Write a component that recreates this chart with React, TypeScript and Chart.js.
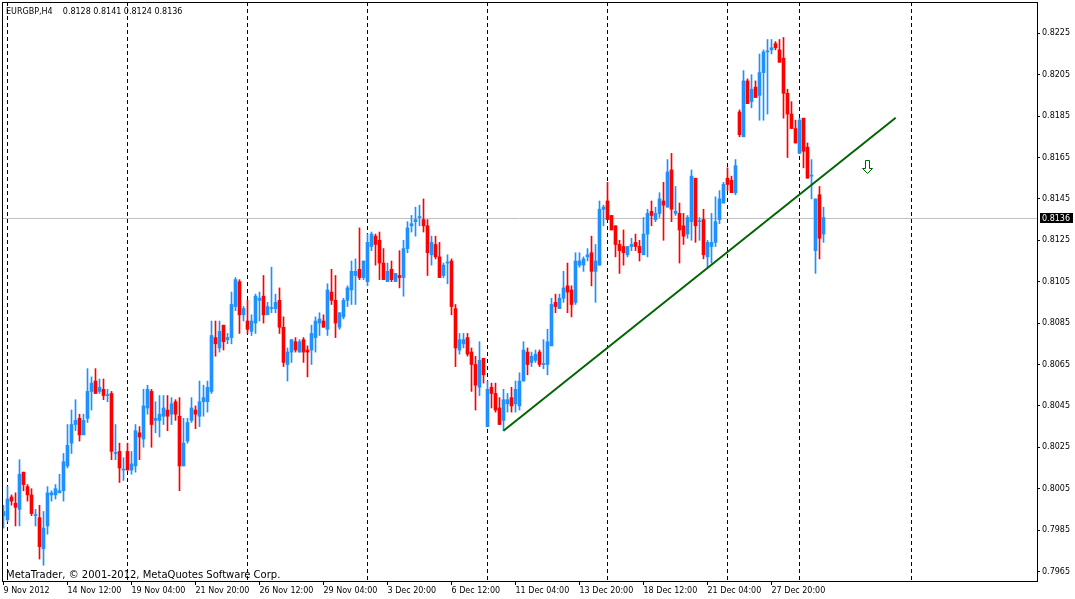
import React, { useEffect, useRef } from 'react';
import { Chart, registerables } from 'chart.js';

Chart.register(...registerables);

// ---------- data ----------
const symbolTitle = 'EURGBP,H4';
const copyrightText = 'MetaTrader, © 2001-2012, MetaQuotes Software Corp.';

const opens = [
  0.7992, 0.7990, 0.8001, 0.7998, 0.7995, 0.8013, 0.8006, 0.8002, 0.7992, 0.7991,
  0.7976, 0.7987, 0.8002, 0.8002, 0.8003, 0.8004, 0.8016, 0.8027, 0.8036, 0.8039,
  0.8031, 0.8039, 0.8052, 0.8057, 0.8052, 0.8053, 0.8050, 0.8051, 0.8022, 0.8023,
  0.8014, 0.8023, 0.8014, 0.8016, 0.8032, 0.8029, 0.8044, 0.8052, 0.8038, 0.8038,
  0.8040, 0.8043, 0.8041, 0.8047, 0.8040, 0.8016, 0.8028, 0.8038, 0.8043, 0.8040,
  0.8047, 0.8047, 0.8052, 0.8078, 0.8073, 0.8084, 0.8077, 0.8078, 0.8093, 0.8105,
  0.8089, 0.8086, 0.8081, 0.8085, 0.8096, 0.8098, 0.8089, 0.8092, 0.8092, 0.8096,
  0.8083, 0.8065, 0.8071, 0.8076, 0.8071, 0.8077, 0.8072, 0.8072, 0.8078, 0.8085,
  0.8086, 0.8082, 0.8100, 0.8096, 0.8083, 0.8088, 0.8096, 0.8101, 0.8108, 0.8111,
  0.8107, 0.8105, 0.8122, 0.8127, 0.8125, 0.8114, 0.8105, 0.8111, 0.8105, 0.8108,
  0.8107, 0.8121, 0.8132, 0.8134, 0.8136, 0.8135, 0.8132, 0.8118, 0.8123, 0.8117,
  0.8108, 0.8114, 0.8115, 0.8092, 0.8072, 0.8075, 0.8078, 0.8071, 0.8065, 0.8054,
  0.8068, 0.8035, 0.8054, 0.8051, 0.8044, 0.8038, 0.8046, 0.8049, 0.8046, 0.8045,
  0.8057, 0.8071, 0.8066, 0.8067, 0.8071, 0.8065, 0.8065, 0.8074, 0.8095, 0.8092,
  0.8097, 0.8103, 0.8101, 0.8095, 0.8113, 0.8113, 0.8117, 0.8119, 0.8110, 0.8113,
  0.8140, 0.8144, 0.8137, 0.8132, 0.8123, 0.8122, 0.8118, 0.8122, 0.8124, 0.8122,
  0.8118, 0.8128, 0.8139, 0.8135, 0.8138, 0.8144, 0.8141, 0.8159, 0.8138, 0.8138,
  0.8132, 0.8128, 0.8134, 0.8155, 0.8134, 0.8135, 0.8117, 0.8122, 0.8124, 0.8135,
  0.8143, 0.8155, 0.8154, 0.8148, 0.8187, 0.8175, 0.8202, 0.8192, 0.8199, 0.8195,
  0.8206, 0.8216, 0.8217, 0.8220, 0.8217, 0.8213, 0.8196, 0.8186, 0.8179, 0.8167,
  0.8184, 0.8170, 0.8156, 0.8120, 0.8147, 0.8128,
];

const highs = [
  0.7997, 0.8006, 0.8002, 0.8003, 0.8019, 0.8013, 0.8007, 0.8005, 0.7995, 0.7997,
  0.7994, 0.8006, 0.8004, 0.8007, 0.8012, 0.8022, 0.8036, 0.8043, 0.8048, 0.8041,
  0.8041, 0.8063, 0.8059, 0.8063, 0.8058, 0.8058, 0.8053, 0.8052, 0.8036, 0.8027,
  0.8020, 0.8027, 0.8023, 0.8036, 0.8035, 0.8053, 0.8055, 0.8053, 0.8047, 0.8050,
  0.8050, 0.8050, 0.8049, 0.8048, 0.8049, 0.8039, 0.8039, 0.8049, 0.8045, 0.8057,
  0.8055, 0.8057, 0.8086, 0.8086, 0.8086, 0.8084, 0.8080, 0.8100, 0.8107, 0.8106,
  0.8093, 0.8096, 0.8089, 0.8099, 0.8100, 0.8108, 0.8095, 0.8112, 0.8099, 0.8102,
  0.8088, 0.8073, 0.8077, 0.8078, 0.8077, 0.8078, 0.8074, 0.8084, 0.8088, 0.8090,
  0.8089, 0.8104, 0.8111, 0.8108, 0.8090, 0.8097, 0.8103, 0.8115, 0.8116, 0.8131,
  0.8115, 0.8128, 0.8129, 0.8128, 0.8129, 0.8121, 0.8114, 0.8115, 0.8109, 0.8120,
  0.8125, 0.8134, 0.8137, 0.8141, 0.8142, 0.8145, 0.8135, 0.8127, 0.8127, 0.8124,
  0.8114, 0.8118, 0.8116, 0.8094, 0.8080, 0.8080, 0.8080, 0.8073, 0.8069, 0.8076,
  0.8068, 0.8057, 0.8056, 0.8056, 0.8049, 0.8053, 0.8051, 0.8054, 0.8057, 0.8061,
  0.8076, 0.8073, 0.8071, 0.8072, 0.8072, 0.8077, 0.8082, 0.8097, 0.8099, 0.8099,
  0.8110, 0.8114, 0.8103, 0.8119, 0.8119, 0.8117, 0.8121, 0.8127, 0.8123, 0.8144,
  0.8142, 0.8153, 0.8137, 0.8132, 0.8125, 0.8130, 0.8122, 0.8126, 0.8128, 0.8125,
  0.8136, 0.8140, 0.8144, 0.8141, 0.8148, 0.8153, 0.8164, 0.8167, 0.8151, 0.8143,
  0.8138, 0.8137, 0.8159, 0.8155, 0.8136, 0.8140, 0.8125, 0.8138, 0.8146, 0.8149,
  0.8153, 0.8160, 0.8156, 0.8164, 0.8188, 0.8207, 0.8203, 0.8205, 0.8202, 0.8215,
  0.8217, 0.8222, 0.8222, 0.8221, 0.8222, 0.8223, 0.8198, 0.8192, 0.8183, 0.8184,
  0.8184, 0.8172, 0.8164, 0.8145, 0.8151, 0.8141,
];

const lows = [
  0.7986, 0.7989, 0.7997, 0.7987, 0.7987, 0.8004, 0.7999, 0.7992, 0.7987, 0.7971,
  0.7968, 0.7983, 0.7999, 0.8000, 0.8003, 0.7999, 0.8015, 0.8022, 0.8033, 0.8028,
  0.8031, 0.8037, 0.8043, 0.8051, 0.8051, 0.8048, 0.8047, 0.8019, 0.8019, 0.8008,
  0.8009, 0.8014, 0.8012, 0.8013, 0.8019, 0.8025, 0.8041, 0.8025, 0.8032, 0.8030,
  0.8036, 0.8033, 0.8036, 0.8038, 0.8004, 0.8016, 0.8027, 0.8037, 0.8034, 0.8035,
  0.8040, 0.8042, 0.8051, 0.8069, 0.8071, 0.8072, 0.8075, 0.8075, 0.8091, 0.8080,
  0.8086, 0.8080, 0.8079, 0.8080, 0.8086, 0.8085, 0.8089, 0.8090, 0.8090, 0.8080,
  0.8064, 0.8057, 0.8066, 0.8071, 0.8071, 0.8066, 0.8059, 0.8065, 0.8071, 0.8079,
  0.8083, 0.8079, 0.8094, 0.8078, 0.8082, 0.8087, 0.8093, 0.8094, 0.8094, 0.8106,
  0.8106, 0.8103, 0.8120, 0.8113, 0.8106, 0.8106, 0.8105, 0.8105, 0.8105, 0.8102,
  0.8098, 0.8119, 0.8129, 0.8127, 0.8132, 0.8129, 0.8108, 0.8113, 0.8116, 0.8107,
  0.8107, 0.8104, 0.8089, 0.8064, 0.8070, 0.8073, 0.8069, 0.8052, 0.8043, 0.8050,
  0.8056, 0.8035, 0.8044, 0.8042, 0.8036, 0.8033, 0.8042, 0.8042, 0.8042, 0.8043,
  0.8057, 0.8060, 0.8064, 0.8066, 0.8064, 0.8063, 0.8060, 0.8074, 0.8090, 0.8092,
  0.8095, 0.8090, 0.8088, 0.8094, 0.8112, 0.8110, 0.8115, 0.8103, 0.8095, 0.8113,
  0.8132, 0.8135, 0.8130, 0.8117, 0.8109, 0.8113, 0.8117, 0.8120, 0.8120, 0.8115,
  0.8118, 0.8117, 0.8132, 0.8134, 0.8136, 0.8125, 0.8141, 0.8134, 0.8137, 0.8114,
  0.8123, 0.8126, 0.8125, 0.8124, 0.8125, 0.8116, 0.8112, 0.8114, 0.8122, 0.8133,
  0.8143, 0.8149, 0.8148, 0.8147, 0.8175, 0.8175, 0.8191, 0.8189, 0.8194, 0.8183,
  0.8183, 0.8186, 0.8215, 0.8217, 0.8211, 0.8184, 0.8165, 0.8179, 0.8172, 0.8167,
  0.8160, 0.8155, 0.8145, 0.8109, 0.8116, 0.8124,
];

const closes = [
  0.7994, 0.8000, 0.7999, 0.7996, 0.8012, 0.8007, 0.8002, 0.7993, 0.7992, 0.7977,
  0.7986, 0.8003, 0.8003, 0.8005, 0.8004, 0.8018, 0.8026, 0.8036, 0.8038, 0.8031,
  0.8038, 0.8052, 0.8056, 0.8051, 0.8054, 0.8050, 0.8050, 0.8023, 0.8022, 0.8015,
  0.8014, 0.8014, 0.8017, 0.8033, 0.8030, 0.8045, 0.8053, 0.8036, 0.8039, 0.8041,
  0.8044, 0.8040, 0.8046, 0.8041, 0.8016, 0.8027, 0.8037, 0.8044, 0.8041, 0.8047,
  0.8049, 0.8054, 0.8079, 0.8075, 0.8081, 0.8076, 0.8078, 0.8094, 0.8106, 0.8089,
  0.8092, 0.8082, 0.8086, 0.8098, 0.8097, 0.8089, 0.8093, 0.8092, 0.8095, 0.8083,
  0.8066, 0.8071, 0.8077, 0.8072, 0.8076, 0.8071, 0.8071, 0.8080, 0.8086, 0.8087,
  0.8083, 0.8101, 0.8096, 0.8085, 0.8090, 0.8096, 0.8102, 0.8110, 0.8110, 0.8107,
  0.8115, 0.8124, 0.8128, 0.8123, 0.8114, 0.8106, 0.8110, 0.8106, 0.8109, 0.8107,
  0.8121, 0.8131, 0.8133, 0.8135, 0.8136, 0.8132, 0.8119, 0.8124, 0.8117, 0.8107,
  0.8113, 0.8114, 0.8093, 0.8073, 0.8077, 0.8077, 0.8070, 0.8065, 0.8055, 0.8067,
  0.8060, 0.8053, 0.8051, 0.8043, 0.8036, 0.8048, 0.8048, 0.8045, 0.8053, 0.8057,
  0.8072, 0.8065, 0.8069, 0.8070, 0.8065, 0.8065, 0.8076, 0.8094, 0.8093, 0.8097,
  0.8102, 0.8100, 0.8094, 0.8115, 0.8115, 0.8116, 0.8118, 0.8110, 0.8115, 0.8140,
  0.8141, 0.8135, 0.8130, 0.8123, 0.8120, 0.8119, 0.8122, 0.8123, 0.8122, 0.8119,
  0.8128, 0.8138, 0.8137, 0.8138, 0.8145, 0.8142, 0.8158, 0.8140, 0.8139, 0.8130,
  0.8127, 0.8136, 0.8156, 0.8132, 0.8134, 0.8118, 0.8124, 0.8124, 0.8134, 0.8145,
  0.8152, 0.8152, 0.8148, 0.8161, 0.8176, 0.8202, 0.8191, 0.8198, 0.8194, 0.8206,
  0.8216, 0.8216, 0.8218, 0.8218, 0.8211, 0.8196, 0.8186, 0.8179, 0.8172, 0.8183,
  0.8168, 0.8155, 0.8156, 0.8145, 0.8126, 0.8136,
];

// weekly period separators (bar indexes)
const separatorBars = [1, 31, 61, 91, 121, 151, 181, 199, 227];

// time axis labels (bar index -> label)
const xTickBars = [0, 16, 32, 48, 64, 80, 96, 112, 128, 144, 160, 176, 192];
const xTickLabels = [
  '9 Nov 2012', '14 Nov 12:00', '19 Nov 04:00', '21 Nov 20:00', '26 Nov 12:00',
  '29 Nov 04:00', '3 Dec 20:00', '6 Dec 12:00', '11 Dec 04:00', '13 Dec 20:00',
  '18 Dec 12:00', '21 Dec 04:00', '27 Dec 20:00',
];

// price axis labels
const yTickValues = [
  0.7965, 0.7985, 0.8005, 0.8025, 0.8045, 0.8065, 0.8085,
  0.8105, 0.8125, 0.8145, 0.8165, 0.8185, 0.8205, 0.8225,
];

// visible ranges
const xRange = [-0.375, 258.375];
const yRange = [0.796041, 0.824012];

// trend line (bar index, price) and down arrow (bar index, price)
const trendStart = [125, 0.8033];
const trendEnd = [223.05, 0.81842];
const arrowMark = [216, 0.8164];

// ---------- styles ----------
const BULL = '#1E90FF';
const BEAR = '#FF0000';
const TREND = '#006400';
const FONT = '"DejaVu Sans", "Liberation Sans", sans-serif';

const mtOverlay = {
  id: 'mtOverlay',
  beforeDatasetsDraw(chart: any) {
    const { ctx, chartArea: a, scales } = chart;
    const x = scales.x;
    const y = scales.y;
    ctx.save();
    // bid line
    const bid = closes[closes.length - 1];
    const by = Math.round(y.getPixelForValue(bid)) + 0.5;
    ctx.strokeStyle = '#C0C0C0';
    ctx.lineWidth = 1;
    ctx.beginPath();
    ctx.moveTo(a.left, by);
    ctx.lineTo(a.right, by);
    ctx.stroke();
    // period separators
    ctx.strokeStyle = '#000000';
    ctx.setLineDash([4, 3]);
    for (const b of separatorBars) {
      const px = Math.floor(x.getPixelForValue(b)) + 0.5;
      ctx.beginPath();
      ctx.moveTo(px, a.top);
      ctx.lineTo(px, a.bottom);
      ctx.stroke();
    }
    ctx.restore();
  },
  afterDatasetsDraw(chart: any) {
    const { ctx, scales } = chart;
    const cx = Math.floor(scales.x.getPixelForValue(arrowMark[0])) + 0.5;
    const ty = Math.round(scales.y.getPixelForValue(arrowMark[1])) + 0.5;
    ctx.save();
    ctx.strokeStyle = TREND;
    ctx.fillStyle = '#FFFFFF';
    ctx.lineWidth = 1;
    ctx.beginPath();
    ctx.moveTo(cx - 2, ty);
    ctx.lineTo(cx + 2, ty);
    ctx.lineTo(cx + 2, ty + 8);
    ctx.lineTo(cx + 5, ty + 8);
    ctx.lineTo(cx, ty + 13);
    ctx.lineTo(cx - 5, ty + 8);
    ctx.lineTo(cx - 2, ty + 8);
    ctx.closePath();
    ctx.fill();
    ctx.stroke();
    ctx.restore();
  },
  afterDraw(chart: any) {
    const { ctx, chartArea: a, scales } = chart;
    ctx.save();
    // frame
    ctx.strokeStyle = '#000000';
    ctx.lineWidth = 1;
    ctx.strokeRect(a.left + 0.5, a.top + 0.5, a.right - a.left, a.bottom - a.top);
    // current price box
    const bid = closes[closes.length - 1];
    const py = Math.round(scales.y.getPixelForValue(bid));
    ctx.fillStyle = '#000000';
    ctx.fillRect(a.right + 3, py - 5, 33, 10);
    ctx.fillStyle = '#FFFFFF';
    ctx.font = '8px ' + FONT;
    ctx.textAlign = 'left';
    ctx.textBaseline = 'middle';
    ctx.fillText(bid.toFixed(4), a.right + 5, py + 0.5);
    ctx.restore();
  },
};

export default function App() {
  const ref = useRef<HTMLCanvasElement>(null);

  useEffect(() => {
    const canvas = ref.current;
    if (!canvas) return;
    const bars = opens.map((_, i) => i);
    const colors = bars.map((i) => (closes[i] >= opens[i] ? BULL : BEAR));

    const chart = new Chart(canvas, {
      type: 'bar',
      data: {
        datasets: [
          {
            type: 'line',
            label: 'Trend',
            data: [
              { x: trendStart[0], y: trendStart[1] },
              { x: trendEnd[0], y: trendEnd[1] },
            ],
            borderColor: TREND,
            borderWidth: 2,
            pointRadius: 0,
            fill: false,
            order: 0,
          } as any,
          {
            type: 'bar',
            label: 'Body',
            data: bars.map((i) => ({ x: i, y: [opens[i], closes[i]] })),
            backgroundColor: colors,
            borderWidth: 0,
            barThickness: 3,
            minBarLength: 1,
            grouped: false,
            order: 1,
          } as any,
          {
            type: 'bar',
            label: 'Wick',
            data: bars.map((i) => ({ x: i, y: [lows[i], highs[i]] })),
            backgroundColor: colors,
            borderWidth: 0,
            barThickness: 1,
            grouped: false,
            order: 2,
          } as any,
        ],
      },
      options: {
        animation: false,
        responsive: false,
        devicePixelRatio: 1,
        events: [],
        layout: { padding: { left: 2, top: 2, right: 0, bottom: 0 } },
        plugins: { legend: { display: false }, tooltip: { enabled: false }, title: { display: false } },
        scales: {
          x: {
            type: 'linear',
            min: xRange[0],
            max: xRange[1],
            offset: false,
            grid: { display: true, drawOnChartArea: false, drawTicks: true, tickLength: 4, color: '#000000', offset: false },
            border: { display: false },
            ticks: {
              autoSkip: false,
              maxRotation: 0,
              minRotation: 0,
              align: 'start',
              padding: 1,
              color: '#000000',
              font: { family: FONT, size: 8 },
              callback: (v: any) => {
                const k = xTickBars.indexOf(Number(v));
                return k >= 0 ? xTickLabels[k] : '';
              },
            },
            afterBuildTicks: (s: any) => {
              s.ticks = xTickBars.map((v) => ({ value: v }));
            },
            afterFit: (s: any) => {
              s.height = 18;
              s.paddingLeft = 0;
              s.paddingRight = 0;
              s.paddingTop = 0;
              s.paddingBottom = 0;
            },
          } as any,
          y: {
            type: 'linear',
            position: 'right',
            min: yRange[0],
            max: yRange[1],
            grid: { display: true, drawOnChartArea: false, drawTicks: true, tickLength: 3, color: '#000000' },
            border: { display: false },
            ticks: {
              autoSkip: false,
              padding: 2,
              color: '#000000',
              font: { family: FONT, size: 8 },
              callback: (v: any) => Number(v).toFixed(4),
            },
            afterBuildTicks: (s: any) => {
              s.ticks = yTickValues.map((v) => ({ value: v }));
            },
            afterFit: (s: any) => {
              s.width = 38;
              s.paddingLeft = 0;
              s.paddingRight = 0;
              s.paddingTop = 0;
              s.paddingBottom = 0;
            },
          } as any,
        },
      } as any,
      plugins: [mtOverlay as any],
    });

    return () => chart.destroy();
  }, []);

  const last = opens.length - 1;
  const header = `${symbolTitle}    ${opens[last].toFixed(4)} ${highs[last].toFixed(4)} ${lows[last].toFixed(4)} ${closes[last].toFixed(4)}`;

  return (
    <div style={{ position: 'absolute', left: 0, top: 0, width: 1075, height: 599, background: '#FFFFFF', overflow: 'hidden' }}>
      <canvas ref={ref} width={1075} height={599} style={{ display: 'block', width: 1075, height: 599 }} />
      <div
        style={{
          position: 'absolute', left: 6, top: 6.5, fontFamily: FONT, fontSize: 8,
          lineHeight: 'normal', whiteSpace: 'pre', color: '#000000',
        }}
      >
        {header}
      </div>
      <div
        style={{
          position: 'absolute', left: 6, top: 568.5, fontFamily: FONT, fontSize: 10,
          lineHeight: 'normal', whiteSpace: 'pre', color: '#000000',
        }}
      >
        {copyrightText}
      </div>
    </div>
  );
}
